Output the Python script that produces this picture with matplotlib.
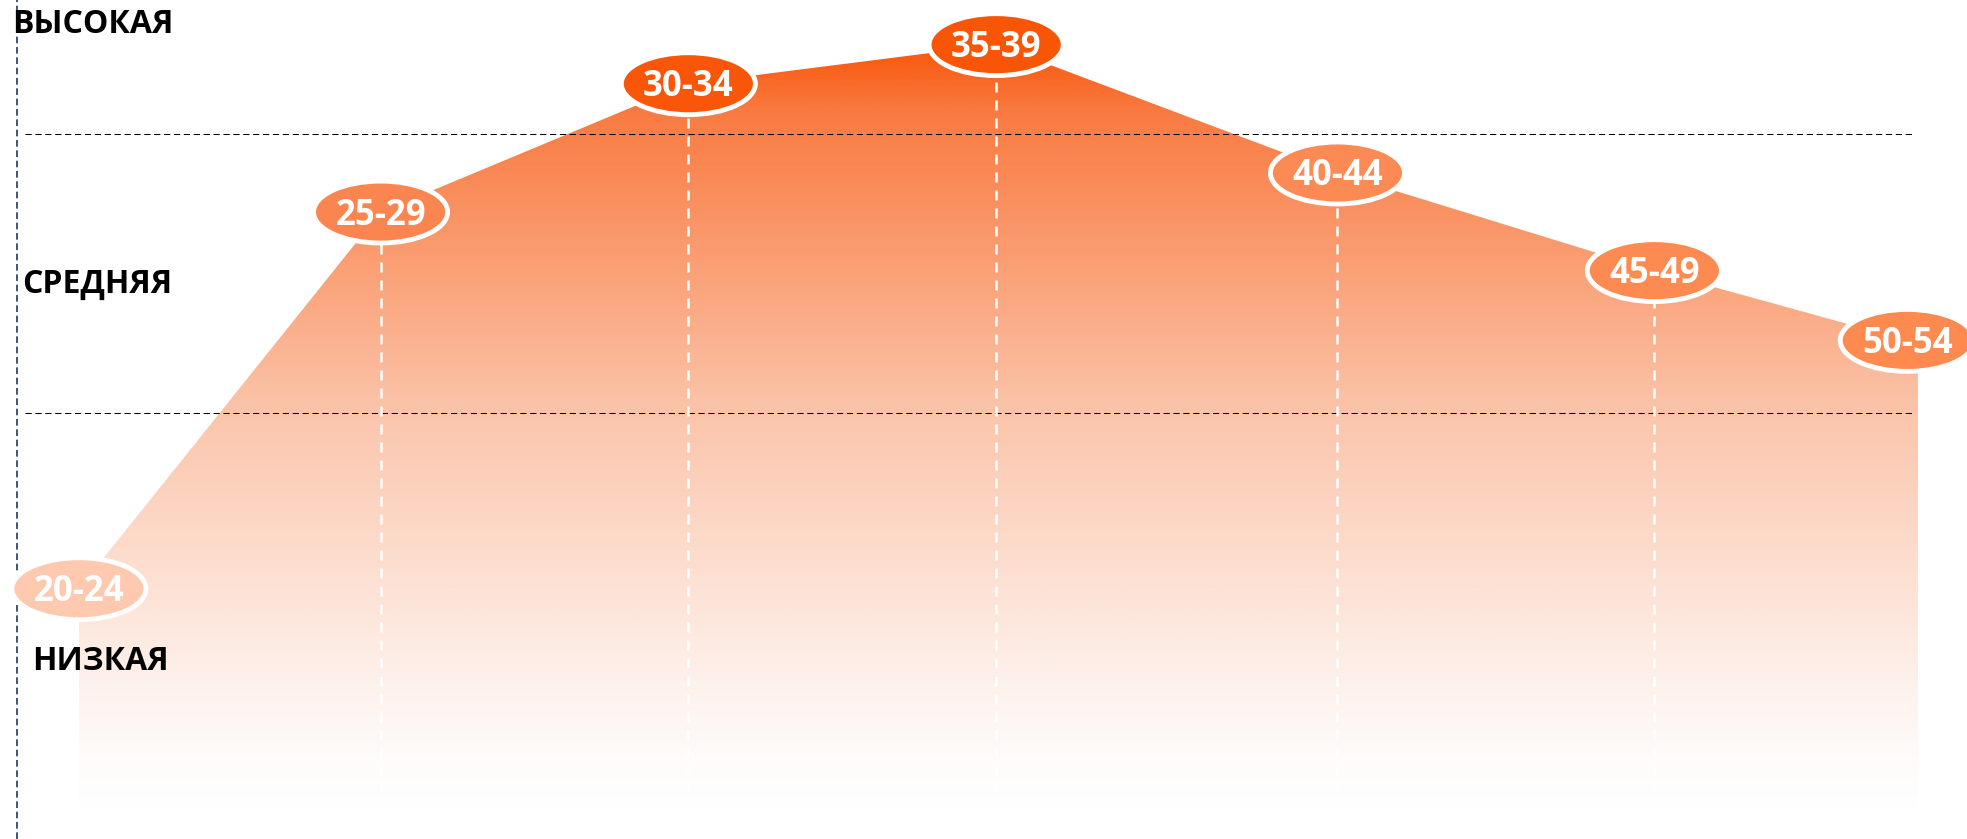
import numpy as np
import matplotlib
matplotlib.use("Agg")
import matplotlib.pyplot as plt
from matplotlib.patches import Polygon, Ellipse
from matplotlib.colors import LinearSegmentedColormap

plt.rcParams['font.family'] = ['Open Sans', 'DejaVu Sans']

# age groups and their position / level on the chart
ages = ['20-24', '25-29', '30-34', '35-39', '40-44', '45-49', '50-54']
age_x = [0.0, 0.99, 2.0, 3.01, 4.13, 5.17, 6.0]
level = [0.37, 1.72, 2.18, 2.32, 1.86, 1.51, 1.26]
marker_colors = ['#FFC9AF', '#FB8550', '#F9560A', '#F95507', '#FC8A54', '#FD8A51', '#FE8A50']

# band borders and band names
thresholds = [1.0, 2.0]
level_names = ['НИЗКАЯ', 'СРЕДНЯЯ', 'ВЫСОКАЯ']
name_y = [0.08, 1.43, 2.362]
name_x = [-0.154, -0.187, -0.22]

base = -0.43

# fill colour stops (level value, colour)
grad_stops = [(-0.43, '#FFFFFF'), (-0.2, '#FEFAF8'), (0.1, '#FDEEE7'),
              (0.37, '#FDE2D5'), (1.0, '#FBC5AB'), (1.58, '#FA9C70'),
              (2.09, '#F97A40'), (2.32, '#F9560A')]

fig = plt.figure(figsize=(19.67, 8.39), dpi=100)
ax = fig.add_axes([0, 0, 1, 1])
ax.set_xlim(-0.259, 6.196)
ax.set_ylim(-0.527, 2.480)
ax.axis('off')

# gradient area under the line, right edge runs a little past the last oval
right = age_x[-1] + 0.035
top = max(level)
lo, hi = grad_stops[0][0], grad_stops[-1][0]
cmap = LinearSegmentedColormap.from_list(
    'fade', [((v - lo) / (hi - lo), c) for v, c in grad_stops])
yy = np.linspace(0, 1, 400).reshape(-1, 1)
img = ax.imshow(yy, cmap=cmap, origin='lower', aspect='auto',
                extent=[age_x[0], right, base, top],
                interpolation='bilinear', zorder=1)
verts = ([(age_x[0], base)] + list(zip(age_x, level))
         + [(right, level[-1]), (right, base)])
poly = Polygon(verts, closed=True, facecolor='none', edgecolor='none')
ax.add_patch(poly)
img.set_clip_path(poly)

# band border lines
for t in thresholds:
    ax.plot([-0.177, 6.02], [t, t], color='black', lw=0.75,
            ls=(0, (6, 3.5)), zorder=2)

# left axis line
ax.axvline(-0.202, color='#1F3864', lw=1.2, ls=(0, (4, 2.2)), zorder=2)

# drop lines from the inner points
for x, y in zip(age_x[1:-1], level[1:-1]):
    ax.plot([x, x], [base, y], color='white', lw=1.8,
            ls=(0, (4, 3.2)), zorder=3)

# oval markers with age labels
for x, y, lab, c in zip(age_x, level, ages, marker_colors):
    ax.add_patch(Ellipse((x, y), 0.44, 0.222, facecolor=c,
                         edgecolor='white', lw=3.5, zorder=4))
    ax.annotate(lab, (x, y), xytext=(0, -9), textcoords='offset points',
                ha='center', va='baseline', color='white', fontsize=25,
                fontweight='bold', zorder=5)

for nx, ny, name in zip(name_x, name_y, level_names):
    ax.text(nx, ny, name, ha='left', va='baseline', fontsize=23,
            fontweight='bold', color='black', zorder=5)

fig.savefig('out.png', dpi=100)
